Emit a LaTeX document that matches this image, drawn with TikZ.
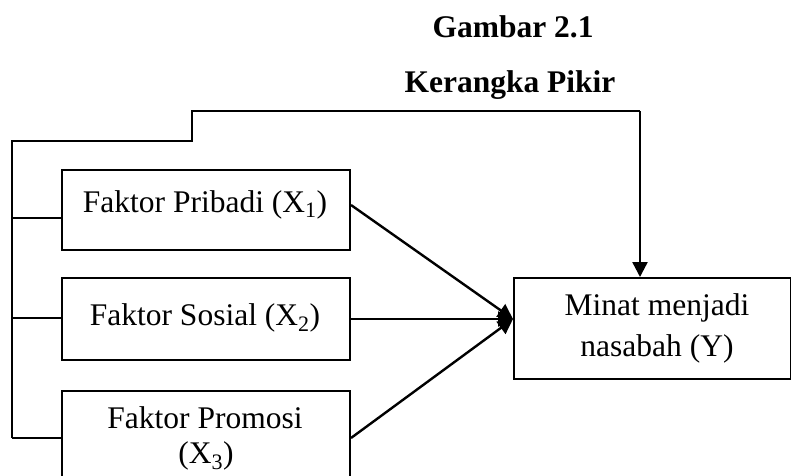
\documentclass[tikz,border=0pt]{standalone}
\usepackage{fontspec}
\setmainfont{Liberation Serif}
\usetikzlibrary{arrows.meta}
\tikzset{
  boxnode/.style={draw, line width=2pt, inner sep=0pt, anchor=north west},
  txt/.style={inner sep=0pt, anchor=base, font=\fontsize{31.5}{40}\selectfont},
  ttl/.style={inner sep=0pt, anchor=base, font=\fontsize{31.5}{40}\selectfont\bfseries},
  conn/.style={line width=2pt},
  arr/.style={line width=2.4pt, -{Triangle[length=15pt,width=15pt]}},
}
\begin{document}
\begin{tikzpicture}[x=1pt,y=-1pt]
\useasboundingbox (0,0) rectangle (791,475);
\clip (0,0) rectangle (791,475);
% titles
\node[ttl] (t1) at (513,37) {Gambar 2.1};
\node[ttl] (t2) at (510,92) {Kerangka Pikir};
% boxes
\node[boxnode, minimum width=288pt, minimum height=80pt] (b1) at (61,169) {};
\node[boxnode, minimum width=288pt, minimum height=82pt] (b2) at (61,277) {};
\node[boxnode, minimum width=288pt, minimum height=110pt] (b3) at (61,390) {};
\node[boxnode, minimum width=277pt, minimum height=101pt] (y) at (513,277) {};
% labels
\node[txt] (l1) at (205,212) {Faktor Pribadi (X\textsubscript{1})};
\node[txt] (l2) at (205,325) {Faktor Sosial (X\textsubscript{2})};
\node[txt] (l3a) at (205,428) {Faktor Promosi};
\node[txt] (l3b) at (206,463) {(X\textsubscript{3})};
\node[txt] (ya) at (657,315) {Minat menjadi};
\node[txt] (yb) at (657,356) {nasabah (Y)};
% bracket coordinates
\coordinate (s1) at (12,218);
\coordinate (s2) at (12,318);
\coordinate (s3) at (12,438);
\coordinate (k1) at (12,141);
\coordinate (k2) at (192,141);
\coordinate (k3) at (192,111);
\coordinate (k4) at (640,111);
% left bracket and top arrow
\draw[conn] (s3) -- (k1) -- (k2) -- (k3) -- (k4);
\draw[arr] (k4) -- (k4 |- y.north);
\draw[conn] (s1) -- (s1 -| b1.west);
\draw[conn] (s2) -- (s2 -| b2.west);
\draw[conn] (s3) -- (s3 -| b3.west);
% converging arrows
\coordinate (m) at (b2.east -| y.west);
\draw[arr] (b1.east |- 0,205) -- (m);
\draw[arr] (b2.east) -- (m);
\draw[arr] (s3 -| b3.east) -- (m);
\end{tikzpicture}
\end{document}
